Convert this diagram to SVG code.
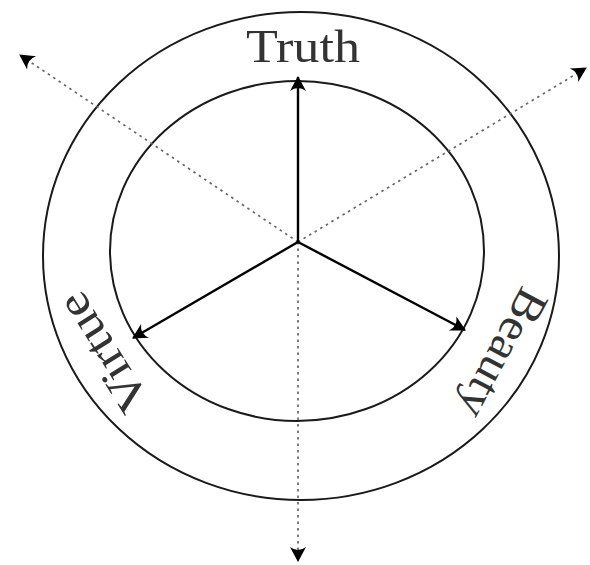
<svg xmlns="http://www.w3.org/2000/svg" width="590" height="565" viewBox="0 0 590 565">
<defs>
<style>
.ring{fill:none;stroke:#1a1a1a;stroke-width:2}
.solid{stroke:#000;stroke-width:2.4;fill:none}
.dot{stroke:#666;stroke-width:1.7;stroke-dasharray:2.5 4;fill:none}
.lbl{font-family:"Liberation Serif","DejaVu Serif",serif;font-size:46px;fill:#333}
</style>
<marker id="ah" markerWidth="22" markerHeight="20" viewBox="-16 -10 18 20" refX="0" refY="0" orient="auto" markerUnits="userSpaceOnUse">
<path d="M1,0 L-14,-8 Q-8,0 -14,8 Z" fill="#000"/>
</marker>
</defs>
<rect width="590" height="565" fill="#fff"/>
<g id="outer-circle"><ellipse class="ring" cx="301" cy="256" rx="258" ry="244"/></g>
<g id="inner-circle"><ellipse class="ring" cx="297" cy="251" rx="187" ry="170"/></g>
<g id="connectors">
<line class="dot" x1="298" y1="242" x2="20" y2="55" marker-end="url(#ah)"/>
<line class="dot" x1="298" y1="242" x2="586" y2="68" marker-end="url(#ah)"/>
<line class="dot" x1="298" y1="242" x2="298" y2="561" marker-end="url(#ah)"/>
<line class="solid" x1="298" y1="242" x2="298" y2="77" marker-end="url(#ah)"/>
<line class="solid" x1="298" y1="242" x2="465" y2="330" marker-end="url(#ah)"/>
<line class="solid" x1="298" y1="242" x2="133" y2="338" marker-end="url(#ah)"/>
</g>
<g id="truth"><text class="lbl" x="303" y="62" text-anchor="middle" textLength="114" lengthAdjust="spacingAndGlyphs">Truth</text></g>
<g id="virtue"><text class="lbl" transform="translate(104,352) rotate(238)" x="0" y="14" text-anchor="middle" textLength="132" lengthAdjust="spacingAndGlyphs">Virtue</text></g>
<g id="beauty"><text class="lbl" transform="translate(502,353) rotate(118)" x="0" y="14" text-anchor="middle" textLength="140" lengthAdjust="spacingAndGlyphs">Beauty</text></g>
</svg>
